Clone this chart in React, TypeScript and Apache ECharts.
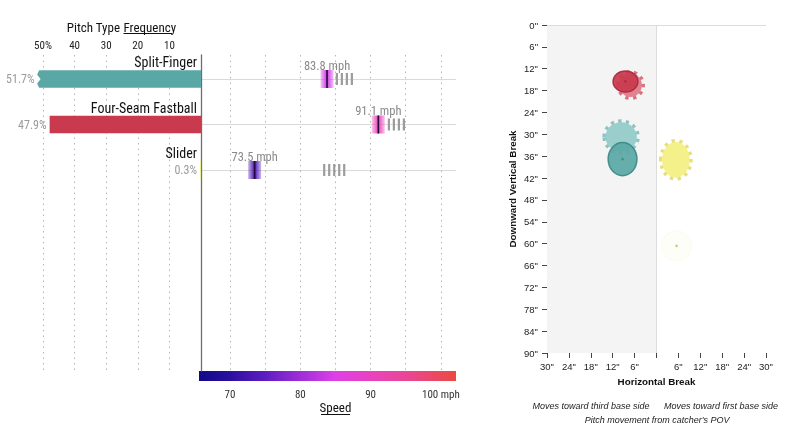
import React, { useEffect, useRef } from "react";
import * as echarts from "echarts";

// ---------- data ----------
const PITCH_TYPES = ["Split-Finger", "Four-Seam Fastball", "Slider"];
const USAGE_PCT = [51.7, 47.9, 0.3];
const AVG_SPEED_MPH = [83.8, 91.1, 73.5];
const LEAGUE_SPEED_LOW = [85.2, 92.6, 83.4];
const LEAGUE_SPEED_HIGH = [87.4, 94.8, 86.2];
const PITCH_COLORS = ["#5aa8a5", "#c93a4f", "#f3ee86"];

// movement (inches): pitcher
const H_BREAK = [-9.3, -8.5, 5.5];
const V_BREAK = [36.8, 15.5, 60.6];
const H_SPREAD = [7.9, 6.8, 8.2];
const V_SPREAD = [9.1, 5.8, 8.2];
// movement (inches): league average
const LEAGUE_H_BREAK = [-9.7, -7.1, 5.3];
const LEAGUE_V_BREAK = [30.7, 16.5, 37.0];
const LEAGUE_H_SPREAD = [8.6, 6.2, 7.6];
const LEAGUE_V_SPREAD = [8.0, 6.5, 9.8];

const FREQ_TICKS = [10, 20, 30, 40, 50];
const SPEED_TICKS = [70, 80, 90, 100];

// ---------- style / layout ----------
const NARROW = "'Liberation Sans Narrow', 'Roboto Condensed', 'DejaVu Sans Condensed', Roboto, sans-serif";
const SANS = "'Liberation Sans', Arial, sans-serif";
const SOLID_STROKE = ["#3e8986", "#a82a3e", "#c9c36a"];
const LEAGUE_FILL = ["#9acecc", "#e3828f", "#f4f08a"];
const LEAGUE_TEETH = ["#8cc4c2", "#d8707f", "#e6de7c"];
const RAMP: [number, string][] = [
  [0, "#100a88"], [0.12, "#2a0f9e"], [0.25, "#5a1cc0"], [0.39, "#9c2ed8"],
  [0.53, "#de40e6"], [0.67, "#e942bf"], [0.82, "#ea4690"], [1, "#ec4a40"],
];

const AXIS_X = 201;
const FREQ_PX = 3.16;
const FREQ_MAX = 52;
const ROW_TOP = 79;
const ROW_SPAN = 91;
const SPEED_RIGHT = 456;
const SPEED_VIS_MIN = 65.87;
const SPEED_MAX = 102.15;
const SPEED_AXIS_MIN = 65;
const speedPx = (SPEED_RIGHT - AXIS_X) / (SPEED_MAX - SPEED_VIS_MIN);
const speedGridLeft = AXIS_X - (SPEED_VIS_MIN - SPEED_AXIS_MIN) * speedPx;

function hexToRgb(h: string) {
  const n = parseInt(h.slice(1), 16);
  return [(n >> 16) & 255, (n >> 8) & 255, n & 255];
}
function speedColor(v: number, alpha = 1) {
  const t = Math.max(0, Math.min(1, (v - SPEED_VIS_MIN) / (SPEED_MAX - SPEED_VIS_MIN)));
  for (let k = 0; k < RAMP.length - 1; k++) {
    const [t0, c0] = RAMP[k];
    const [t1, c1] = RAMP[k + 1];
    if (t >= t0 && t <= t1) {
      const f = (t - t0) / (t1 - t0);
      const a = hexToRgb(c0);
      const b = hexToRgb(c1);
      const c = a.map((x, j) => Math.round(x + (b[j] - x) * f));
      return `rgba(${c[0]},${c[1]},${c[2]},${alpha})`;
    }
  }
  return RAMP[RAMP.length - 1][1];
}

export default function App() {
  const ref = useRef<HTMLDivElement>(null);
  useEffect(() => {
    if (!ref.current) return;
    const chart = echarts.init(ref.current, undefined, { renderer: "svg" });

    const freqData = USAGE_PCT.map((v, i) => [v, i]);
    const speedData = AVG_SPEED_MPH.map((v, i) => [v, i, LEAGUE_SPEED_LOW[i], LEAGUE_SPEED_HIGH[i]]);
    const pitcherData = H_BREAK.map((h, i) => [h, V_BREAK[i], H_SPREAD[i], V_SPREAD[i]]);
    const leagueData = LEAGUE_H_BREAK.map((h, i) => [h, LEAGUE_V_BREAK[i], LEAGUE_H_SPREAD[i], LEAGUE_V_SPREAD[i]]);

    const dotted = { show: true, showMinLine: false, showMaxLine: false, lineStyle: { color: "#b4b4b4", type: [1.5, 4] as any, width: 1 } };

    const option: any = {
      animation: false,
      grid: [
        { left: AXIS_X - FREQ_MAX * FREQ_PX, width: FREQ_MAX * FREQ_PX, top: ROW_TOP, height: ROW_SPAN, outerBoundsMode: "none" },
        { left: AXIS_X - FREQ_MAX * FREQ_PX, width: FREQ_MAX * FREQ_PX, top: 55, height: 316, outerBoundsMode: "none" },
        { left: AXIS_X, width: SPEED_RIGHT - AXIS_X, top: ROW_TOP, height: ROW_SPAN, outerBoundsMode: "none" },
        { left: speedGridLeft, width: SPEED_RIGHT - speedGridLeft, top: 55, height: 316, outerBoundsMode: "none" },
        { left: 547, width: 219, top: 25, height: 328, outerBoundsMode: "none" },
      ],
      xAxis: [
        {
          gridIndex: 0, type: "value", inverse: true, min: 0, max: FREQ_MAX, interval: 10,
          position: "top", offset: 25,
          axisLine: { show: false, onZero: false }, axisTick: { show: false }, splitLine: { show: false },
          axisLabel: {
            showMinLabel: false, showMaxLabel: false, margin: 3, fontSize: 11, color: "#222", fontFamily: NARROW,
            formatter: (v: number) => (v === 50 ? "50%" : FREQ_TICKS.includes(v) ? String(v) : ""),
          },
        },
        {
          gridIndex: 1, type: "value", inverse: true, min: 0, max: FREQ_MAX, interval: 10,
          axisLine: { show: false, onZero: false }, axisTick: { show: false }, axisLabel: { show: false }, splitLine: dotted,
        },
        { gridIndex: 2, type: "value", min: SPEED_VIS_MIN, max: SPEED_MAX, show: false },
        {
          gridIndex: 3, type: "value", min: SPEED_AXIS_MIN, max: SPEED_MAX, interval: 5, position: "bottom",
          axisLine: { show: false, onZero: false }, axisTick: { show: false }, splitLine: dotted,
          axisLabel: {
            showMinLabel: false, showMaxLabel: false, margin: 18, fontSize: 11, color: "#333", fontFamily: NARROW,
            formatter: (v: number) => (SPEED_TICKS.includes(v) ? (v === 100 ? "100 mph" : String(v)) : ""),
          },
        },
        {
          gridIndex: 4, type: "value", min: -30, max: 30, interval: 6, position: "bottom",
          axisLine: { show: false, onZero: false }, axisTick: { show: true, length: 5, lineStyle: { color: "#444" } },
          splitLine: { show: false },
          axisLabel: { margin: 8, fontSize: 9.5, color: "#222", fontFamily: SANS, formatter: (v: number) => (v === 0 ? "" : Math.abs(v) + '"') },
          name: "Horizontal Break", nameLocation: "middle", nameGap: 23,
          nameTextStyle: { fontSize: 9.8, fontWeight: "bold", color: "#111", fontFamily: SANS },
        },
      ],
      yAxis: [
        { gridIndex: 0, type: "category", data: PITCH_TYPES, inverse: true, boundaryGap: false, show: false },
        {
          gridIndex: 1, type: "value", min: 0, max: 1, position: "right",
          axisLine: { show: true, onZero: false, lineStyle: { color: "#6e6e6e", width: 1.3 } },
          axisTick: { show: false }, axisLabel: { show: false }, splitLine: { show: false },
        },
        {
          gridIndex: 2, type: "category", data: PITCH_TYPES, inverse: true, boundaryGap: false,
          axisLine: { show: false, onZero: false }, axisTick: { show: false }, axisLabel: { show: false },
          splitLine: { show: true, lineStyle: { color: "#dadada", width: 1 } },
        },
        { gridIndex: 3, type: "value", min: 0, max: 1, show: false },
        {
          gridIndex: 4, type: "value", inverse: true, min: 0, max: 90, interval: 6, position: "left",
          axisLine: { show: false, onZero: false }, axisTick: { show: true, length: 5, lineStyle: { color: "#444" } },
          splitLine: { show: false },
          axisLabel: { margin: 9, fontSize: 9.5, color: "#222", fontFamily: SANS, formatter: (v: number) => v + '"' },
          name: "Downward Vertical Break", nameLocation: "middle", nameGap: 30, nameRotate: 90,
          nameTextStyle: { fontSize: 9.8, fontWeight: "bold", color: "#111", fontFamily: SANS },
        },
      ],
      series: [
        {
          type: "custom", name: "usage", xAxisIndex: 0, yAxisIndex: 0, data: freqData, clip: false,
          encode: { x: 0, y: 1 },
          renderItem: (params: any, api: any) => {
            const i = params.dataIndex;
            const v = api.value(0);
            const p0 = api.coord([0, i]);
            const p1 = api.coord([v, i]);
            const h = 17.5;
            const top = p0[1] - h / 2;
            const bot = p0[1] + h / 2;
            const xl = p1[0];
            const xr = p0[0];
            const color = PITCH_COLORS[i];
            const bar =
              v > 50
                ? {
                    type: "polygon",
                    shape: {
                      points: [
                        [xr, top], [xl + 1.5, top], [xl - 0.5, top + h * 0.25], [xl + 3, top + h * 0.5],
                        [xl - 0.5, top + h * 0.75], [xl + 1.5, bot], [xr, bot],
                      ],
                    },
                    style: { fill: color },
                  }
                : { type: "rect", shape: { x: xl, y: top, width: Math.max(xr - xl, 1), height: h }, style: { fill: color } };
            return {
              type: "group",
              children: [
                bar,
                {
                  type: "text", x: xl - 3, y: p0[1],
                  style: { text: v.toFixed(1) + "%", align: "right", verticalAlign: "middle", fontSize: 12, fill: "#9a9a9a", fontFamily: NARROW },
                },
                {
                  type: "text", x: xr - 4, y: p0[1] - 17,
                  style: { text: PITCH_TYPES[i], align: "right", verticalAlign: "middle", fontSize: 14, fill: "#111", fontFamily: NARROW },
                },
              ],
            };
          },
        },
        {
          type: "custom", name: "speed", xAxisIndex: 2, yAxisIndex: 2, data: speedData, clip: false,
          encode: { x: 0, y: 1 },
          renderItem: (params: any, api: any) => {
            const i = params.dataIndex;
            const v = api.value(0);
            const c = api.coord([v, i]);
            const lo = api.coord([api.value(2), i]);
            const hi = api.coord([api.value(3), i]);
            const children: any[] = [];
            for (let x = lo[0]; x <= hi[0] + 0.5; x += 5) {
              children.push({ type: "rect", shape: { x: x - 1.1, y: c[1] - 6, width: 2.2, height: 12 }, style: { fill: "#9c9c9c" } });
            }
            children.push({
              type: "rect",
              shape: { x: c[0] - 6.5, y: c[1] - 9, width: 13, height: 18 },
              style: {
                fill: new echarts.graphic.LinearGradient(0, 0, 1, 0, [
                  { offset: 0, color: speedColor(v, 0.3) },
                  { offset: 0.5, color: speedColor(v, 1) },
                  { offset: 1, color: speedColor(v, 0.3) },
                ]),
              },
            });
            children.push({ type: "rect", shape: { x: c[0] - 0.8, y: c[1] - 9, width: 1.6, height: 18 }, style: { fill: "#2a0640" } });
            children.push({
              type: "text", x: c[0], y: c[1] - 14,
              style: { text: v.toFixed(1) + " mph", align: "center", verticalAlign: "middle", fontSize: 12.5, fill: "#8a8a8a", fontFamily: NARROW },
            });
            return { type: "group", children };
          },
        },
        {
          type: "custom", name: "league", xAxisIndex: 4, yAxisIndex: 4, data: leagueData, clip: false,
          encode: { x: 0, y: 1 },
          markArea: {
            silent: true, z: 0,
            itemStyle: { color: "#f4f4f4", borderWidth: 0 },
            label: { show: false },
            data: [[{ xAxis: -30, yAxis: 0 }, { xAxis: 0, yAxis: 90 }]],
          },
          markLine: {
            silent: true, z: 1, symbol: ["none", "none"], label: { show: false },
            lineStyle: { color: "#dcdcdc", type: "solid", width: 1 },
            data: [{ xAxis: 0 }, { yAxis: 0 }],
          },
          renderItem: (params: any, api: any) => {
            const i = params.dataIndex;
            const c = api.coord([api.value(0), api.value(1)]);
            const s = api.size([api.value(2), api.value(3)]);
            const rx = Math.abs(s[0]) / 2;
            const ry = Math.abs(s[1]) / 2;
            return {
              type: "group",
              children: [
                {
                  type: "ellipse",
                  shape: { cx: c[0], cy: c[1], rx, ry },
                  style: { fill: "none", stroke: LEAGUE_TEETH[i], lineWidth: 6, lineDash: [3, 4] },
                },
                {
                  type: "ellipse",
                  shape: { cx: c[0], cy: c[1], rx, ry },
                  style: { fill: LEAGUE_FILL[i] },
                },
              ],
            };
          },
        },
        {
          type: "custom", name: "pitcher", xAxisIndex: 4, yAxisIndex: 4, data: pitcherData, clip: false,
          encode: { x: 0, y: 1 },
          renderItem: (params: any, api: any) => {
            const i = params.dataIndex;
            const c = api.coord([api.value(0), api.value(1)]);
            const s = api.size([api.value(2), api.value(3)]);
            const op = Math.min(0.93, 0.05 + USAGE_PCT[i] / 50);
            return {
              type: "group",
              children: [
                {
                  type: "ellipse",
                  shape: { cx: c[0], cy: c[1], rx: Math.abs(s[0]) / 2, ry: Math.abs(s[1]) / 2 },
                  style: { fill: PITCH_COLORS[i], stroke: SOLID_STROKE[i], lineWidth: 1.5, opacity: op },
                },
                {
                  type: "circle",
                  shape: { cx: c[0], cy: c[1], r: 1.3 },
                  style: { fill: SOLID_STROKE[i], opacity: 0.9 },
                },
              ],
            };
          },
        },
      ],
      graphic: [
        { type: "text", x: 120, y: 27, style: { text: "Pitch Type", align: "right", verticalAlign: "middle", fontSize: 13, fill: "#111", fontFamily: NARROW } },
        { type: "text", x: 123.5, y: 27, style: { text: "Frequency", align: "left", verticalAlign: "middle", fontSize: 13, fill: "#111", fontFamily: NARROW } },
        { type: "line", shape: { x1: 123.5, y1: 33.5, x2: 172, y2: 33.5 }, style: { stroke: "#111", lineWidth: 1 } },
        {
          type: "rect", shape: { x: 199, y: 371, width: 257, height: 10 },
          style: {
            fill: new echarts.graphic.LinearGradient(0, 0, 1, 0, RAMP.map(([o, col]) => ({ offset: o, color: col }))),
          },
        },
        { type: "text", x: 335.5, y: 407, style: { text: "Speed", align: "center", verticalAlign: "middle", fontSize: 13, fill: "#111", fontFamily: NARROW } },
        { type: "line", shape: { x1: 321, y1: 414.5, x2: 350, y2: 414.5 }, style: { stroke: "#111", lineWidth: 1 } },
        { type: "text", x: 591, y: 406, style: { text: "Moves toward third base side", align: "center", verticalAlign: "middle", fontSize: 9, fontStyle: "italic", fill: "#222", fontFamily: SANS } },
        { type: "text", x: 721, y: 406, style: { text: "Moves toward first base side", align: "center", verticalAlign: "middle", fontSize: 9, fontStyle: "italic", fill: "#222", fontFamily: SANS } },
        { type: "text", x: 657, y: 420, style: { text: "Pitch movement from catcher's POV", align: "center", verticalAlign: "middle", fontSize: 9, fontStyle: "italic", fill: "#222", fontFamily: SANS } },
      ],
    };

    chart.setOption(option);
    return () => chart.dispose();
  }, []);

  return <div ref={ref} style={{ position: "fixed", left: 0, top: 0, width: 800, height: 428 }} />;
}
